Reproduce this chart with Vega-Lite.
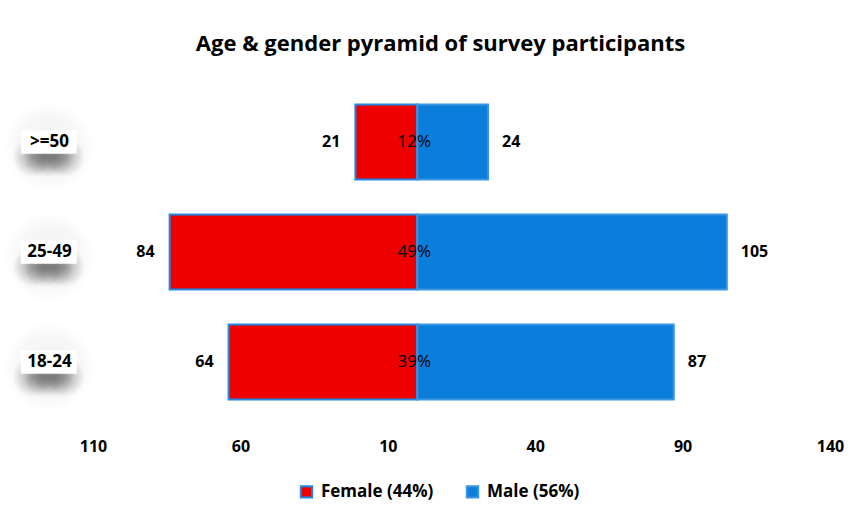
{
  "$schema": "https://vega.github.io/schema/vega-lite/v6.json",
  "autosize": {"type": "none"},
  "width": 737,
  "height": 330,
  "padding": {"left": 93, "top": 87, "right": 30, "bottom": 107},
  "background": "white",
  "config": {
    "view": {"stroke": null},
    "font": "Open Sans",
    "axis": {"grid": false, "ticks": false, "tickSize": 0, "domain": false},
    "point": {"filled": true, "opacity": 1, "clip": false, "shape": "circle"}
  },
  "title": {
    "text": "Age & gender pyramid of survey participants",
    "font": "Open Sans",
    "fontSize": 22,
    "fontWeight": "bold",
    "color": "#000000",
    "anchor": "middle",
    "dx": -21,
    "offset": 31
  },
  "datasets": {
    "counts": [
      {"age": ">=50", "gender": "Female (44%)", "count": 21},
      {"age": ">=50", "gender": "Male (56%)", "count": 24},
      {"age": "25-49", "gender": "Female (44%)", "count": 84},
      {"age": "25-49", "gender": "Male (56%)", "count": 105},
      {"age": "18-24", "gender": "Female (44%)", "count": 64},
      {"age": "18-24", "gender": "Male (56%)", "count": 87}
    ],
    "shares": [
      {"age": ">=50", "share": "12%"},
      {"age": "25-49", "share": "49%"},
      {"age": "18-24", "share": "39%"}
    ]
  },
  "encoding": {
    "y": {
      "field": "age",
      "type": "nominal",
      "sort": [">=50", "25-49", "18-24"],
      "scale": {"paddingInner": 0.32, "paddingOuter": 0.16},
      "axis": {
        "title": null,
        "zindex": 1,
        "labelFont": "Open Sans",
        "labelFontSize": 17,
        "labelFontWeight": "bold",
        "labelColor": "#000000",
        "labelAlign": "center",
        "labelPadding": 44
      }
    }
  },
  "layer": [
    {
      "data": {"name": "shares"},
      "mark": {
        "type": "point", "size": 8100, "yOffset": 5,
        "color": {"gradient": "radial", "stops": [
          {"offset": 0, "color": "rgba(0,0,0,0.06)"},
          {"offset": 0.7, "color": "rgba(0,0,0,0.03)"},
          {"offset": 1, "color": "rgba(0,0,0,0)"}
        ]}
      },
      "encoding": {"x": {"datum": -125}}
    },
    {
      "data": {"name": "shares"},
      "mark": {
        "type": "point", "size": 1600, "yOffset": 15, "xOffset": -16,
        "color": {"gradient": "radial", "stops": [
          {"offset": 0, "color": "rgba(0,0,0,0.3)"},
          {"offset": 0.45, "color": "rgba(0,0,0,0.18)"},
          {"offset": 1, "color": "rgba(0,0,0,0)"}
        ]}
      },
      "encoding": {"x": {"datum": -125}}
    },
    {
      "data": {"name": "shares"},
      "mark": {
        "type": "point", "size": 1600, "yOffset": 15, "xOffset": -5,
        "color": {"gradient": "radial", "stops": [
          {"offset": 0, "color": "rgba(0,0,0,0.3)"},
          {"offset": 0.45, "color": "rgba(0,0,0,0.18)"},
          {"offset": 1, "color": "rgba(0,0,0,0)"}
        ]}
      },
      "encoding": {"x": {"datum": -125}}
    },
    {
      "data": {"name": "shares"},
      "mark": {
        "type": "point", "size": 1600, "yOffset": 15, "xOffset": 5,
        "color": {"gradient": "radial", "stops": [
          {"offset": 0, "color": "rgba(0,0,0,0.3)"},
          {"offset": 0.45, "color": "rgba(0,0,0,0.18)"},
          {"offset": 1, "color": "rgba(0,0,0,0)"}
        ]}
      },
      "encoding": {"x": {"datum": -125}}
    },
    {
      "data": {"name": "shares"},
      "mark": {
        "type": "point", "size": 1600, "yOffset": 15, "xOffset": 16,
        "color": {"gradient": "radial", "stops": [
          {"offset": 0, "color": "rgba(0,0,0,0.3)"},
          {"offset": 0.45, "color": "rgba(0,0,0,0.18)"},
          {"offset": 1, "color": "rgba(0,0,0,0)"}
        ]}
      },
      "encoding": {"x": {"datum": -125}}
    },
    {
      "data": {"name": "shares"},
      "mark": {"type": "point", "color": "#ffffff", "size": 3136, "shape": "M-1,-0.42H1V0.42H-1Z"},
      "encoding": {"x": {"datum": -125}}
    },
    {
      "data": {"name": "counts"},
      "transform": [
        {"calculate": "datum.gender == 'Female (44%)' ? -datum.count : datum.count", "as": "signed"}
      ],
      "mark": {"type": "bar", "strokeWidth": 2},
      "encoding": {
        "x": {
          "field": "signed",
          "type": "quantitative",
          "scale": {"domain": [-110, 140], "nice": false, "zero": false},
          "axis": {
            "title": null,
            "values": [-110, -60, -10, 40, 90, 140],
            "labelExpr": "abs(datum.value)",
            "labelFlush": false,
            "labelFont": "Open Sans",
            "labelFontSize": 16,
            "labelFontWeight": "bold",
            "labelColor": "#000000",
            "labelPadding": 21
          }
        },
        "color": {
          "field": "gender",
          "type": "nominal",
          "scale": {"domain": ["Female (44%)", "Male (56%)"], "range": ["#ee0000", "#0b7dda"]},
          "legend": {
            "title": null,
            "orient": "none",
            "legendX": 205,
            "legendY": 396,
            "direction": "horizontal",
            "symbolType": "square",
            "symbolSize": 130,
            "symbolStrokeWidth": 2,
            "labelFont": "Open Sans",
            "labelFontSize": 17,
            "labelFontWeight": "bold",
            "labelColor": "#000000",
            "columnPadding": 28,
            "labelOffset": 6
          }
        },
        "stroke": {
          "field": "gender",
          "type": "nominal",
          "scale": {"domain": ["Female (44%)", "Male (56%)"], "range": ["#1e88e5", "#3a95e3"]},
          "legend": null
        }
      }
    },
    {
      "data": {"name": "counts"},
      "transform": [
        {"calculate": "datum.gender == 'Female (44%)' ? -datum.count : datum.count", "as": "signed"},
        {"filter": "datum.signed < 0"}
      ],
      "mark": {"type": "text", "align": "right", "dx": -15, "font": "Open Sans", "fontSize": 16, "fontWeight": "bold", "color": "#000000"},
      "encoding": {
        "x": {"field": "signed", "type": "quantitative"},
        "text": {"field": "count", "type": "quantitative"}
      }
    },
    {
      "data": {"name": "counts"},
      "transform": [
        {"calculate": "datum.gender == 'Female (44%)' ? -datum.count : datum.count", "as": "signed"},
        {"filter": "datum.signed > 0"}
      ],
      "mark": {"type": "text", "align": "left", "dx": 14, "font": "Open Sans", "fontSize": 16, "fontWeight": "bold", "color": "#000000"},
      "encoding": {
        "x": {"field": "signed", "type": "quantitative"},
        "text": {"field": "count", "type": "quantitative"}
      }
    },
    {
      "mark": {"type": "rule", "color": "#c8c8c8", "strokeWidth": 2},
      "encoding": {"x": {"datum": 0}}
    },
    {
      "data": {"name": "shares"},
      "mark": {"type": "text", "align": "center", "dx": -3, "font": "Open Sans", "fontSize": 17, "color": "#000000"},
      "encoding": {
        "x": {"datum": 0},
        "text": {"field": "share", "type": "nominal"}
      }
    }
  ]
}
